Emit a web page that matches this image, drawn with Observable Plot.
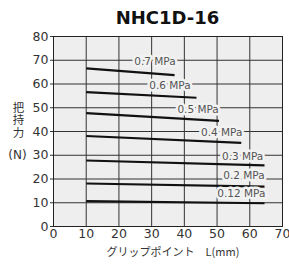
<!DOCTYPE html>
<html><head><meta charset="utf-8">
<script src="https://cdn.jsdelivr.net/npm/d3@7"></script>
<script src="https://cdn.jsdelivr.net/npm/@observablehq/plot@0.6"></script>
<style>
body{margin:0;background:#fff;}
#title{box-sizing:border-box;height:30px;padding-top:9px;padding-left:46px;text-align:center;font:bold 18px "DejaVu Sans";line-height:18px;color:#111;}
</style></head><body>
<div id="title">NHC1D-16</div>
<div id="chart"></div>
<script>
const titleText = "NHC1D-16";
const xTitle = "グリップポイント　L(mm)";
const yTitle = "把持力";
const yUnit = "(N)";
const xTicks = [0, 10, 20, 30, 40, 50, 60, 70];
const yTicks = [0, 10, 20, 30, 40, 50, 60, 70, 80];

const pressures = ["0.7 MPa", "0.6 MPa", "0.5 MPa", "0.4 MPa", "0.3 MPa", "0.2 MPa", "0.12 MPa"];
const startL = [10, 10, 10, 10, 10, 10, 10];
const endL = [37, 43.7, 50.6, 57.4, 64.5, 64.5, 64.5];
const startForce = [66.6, 56.6, 47.7, 38.1, 27.8, 18.1, 10.7];
const endForce = [63.7, 54.2, 44.5, 35.2, 25.7, 16.8, 9.8];
const labelL = [31, 35.6, 44.2, 51.4, 57.8, 58.2, 57.4];
const labelForce = [69.4, 59.4, 49.2, 39.7, 29.5, 21.4, 13.7];

const segs = pressures.map((p, i) => ({p, x1: startL[i], x2: endL[i], y1: startForce[i], y2: endForce[i]}));
const labels = pressures.map((p, i) => ({p, x: labelL[i], y: labelForce[i]}));

const chart = Plot.plot({
  width: 289, height: 240,
  marginTop: 6, marginBottom: 44, marginLeft: 53, marginRight: 7,
  style: {fontFamily: "DejaVu Sans", fontSize: "12.5px", color: "#333", background: "#fff"},
  x: {domain: [0, 70]},
  y: {domain: [0, 80]},
  marks: [
    Plot.frame({fill: "#eeeeee"}),
    Plot.gridX(xTicks, {stroke: "#333", strokeOpacity: 1, strokeWidth: 1}),
    Plot.gridY(yTicks, {stroke: "#333", strokeOpacity: 1, strokeWidth: 1}),
    Plot.link(segs, {x1: "x1", y1: "y1", x2: "x2", y2: "y2", stroke: "#111", strokeWidth: 2.2}),
    Plot.text(labels, {x: "x", y: "y", text: "p", fill: "#555", stroke: "#f2f2f2", strokeWidth: 5, fontSize: 10.5}),
    Plot.frame({stroke: "#222", strokeWidth: 1}),
    Plot.axisY({ticks: yTicks, tickSize: 3, tickPadding: 2, label: null}),
    Plot.axisX({ticks: xTicks, tickSize: 0, tickPadding: 3, label: null}),
    Plot.text([yTitle], {frameAnchor: "left", textAnchor: "middle", y: 46.3, dx: -35, fontFamily: "Noto Sans CJK JP", fontSize: 11.5, fill: "#333"}),
    Plot.text([yUnit], {frameAnchor: "left", textAnchor: "middle", y: 30, dx: -36, fontSize: 12, fill: "#333"}),
    Plot.text([xTitle], {frameAnchor: "bottom", dy: 29, dx: 5, fontFamily: "Noto Sans CJK JP", fontSize: 11, fill: "#333"})
  ]
});
d3.select(chart).selectAll("text")
  .filter(function() { return this.textContent === yTitle; })
  .attr("writing-mode", "vertical-rl")
  .attr("dy", null)
  .style("letter-spacing", "1px");
document.getElementById("chart").appendChild(chart);
</script>
</body></html>
